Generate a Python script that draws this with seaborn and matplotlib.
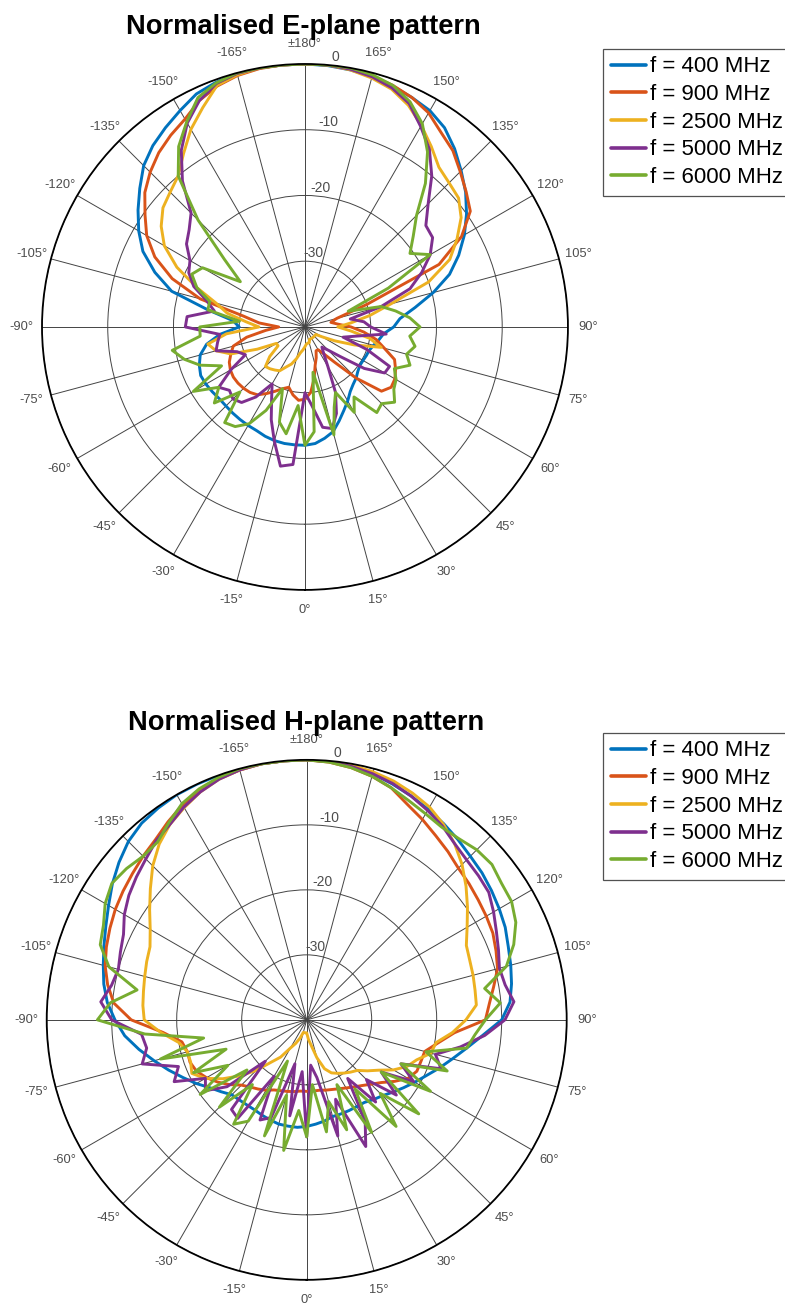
import numpy as np
import pandas as pd
import matplotlib
matplotlib.use("Agg")
import matplotlib.pyplot as plt
from matplotlib.lines import Line2D
import seaborn as sns

# ---------------- data (dB, angle grid 180 -> -175 deg, step 5) ----------------
angles_deg = list(range(180, -180, -5))
freq_labels = ["f = 400 MHz", "f = 900 MHz", "f = 2500 MHz", "f = 5000 MHz", "f = 6000 MHz"]
colors = ["#0072BD", "#D95319", "#EDB120", "#7E2F8E", "#77AC30"]
r_ticks = [-30, -20, -10, 0]

E_400 = [0, -0.1, -0.3, -0.6, -1.0, -1.5, -2.0, -3.0, -4.6, -6.4, -8.1, -10.0,
         -12.0, -14.2, -16.6, -19.8, -23.0, -25.5, -26.5, -28.0, -28.6, -29.2, -29.6, -29.7,
         -29.8, -29.8, -29.5, -29.0, -28.6, -28.0, -27.0, -26.0, -24.8, -23.5, -22.8, -22.2,
         -22.0, -22.0, -22.0, -22.1, -22.3, -22.6, -22.7, -22.8, -22.9, -23.0, -23.0, -22.8,
         -22.6, -22.5, -22.9, -23.5, -24.8, -27.0, -30.0, -29.0, -25.0, -19.0, -15.7, -12.8,
         -10.8, -9.0, -7.2, -5.3, -4.0, -3.0, -2.0, -0.9, -0.4, -0.1, 0.0, 0.0]
E_900 = [0, 0, -0.2, -0.5, -0.9, -1.5, -2.4, -3.9, -5.0, -6.6, -8.0, -9.3,
         -12.5, -17.5, -30.0, -35.0, -36.0, -35.0, -33.0, -31.0, -29.0, -27.5, -25.5, -24.8,
         -24.2, -24.0, -24.8, -29.0, -33.0, -35.0, -36.0, -36.0, -35.0, -34.0, -32.0, -30.0,
         -29.0, -28.8, -29.5, -30.5, -30.0, -29.2, -28.3, -27.4, -27.0, -26.8, -26.7, -26.7,
         -26.9, -27.3, -28.0, -28.7, -31.0, -34.0, -36.0, -33.0, -30.5, -23.5, -18.5, -14.8,
         -12.2, -10.3, -8.2, -6.7, -5.4, -4.4, -3.5, -2.0, -1.0, -0.4, -0.1, 0.0]
E_2500 = [0, 0, -0.3, -0.8, -1.5, -2.8, -4.6, -6.5, -8.3, -9.0, -9.5, -11.0,
          -13.3, -15.7, -20.0, -26.5, -30.0, -33.0, -35.0, -33.0, -30.0, -28.0, -32.0, -35.0,
          -37.0, -38.0, -38.0, -38.0, -38.0, -38.0, -38.0, -38.0, -38.0, -37.5, -37.5, -37.4,
          -37.0, -36.5, -36.0, -35.0, -34.0, -33.3, -32.3, -32.0, -31.7, -31.5, -33.0, -35.0,
          -35.0, -32.0, -28.0, -26.0, -25.0, -28.0, -33.0, -31.0, -28.0, -26.0, -22.5, -18.5,
          -15.3, -13.3, -11.8, -11.0, -10.0, -7.8, -5.3, -3.2, -0.9, -0.3, 0.0, 0.0]
E_5000 = [0, 0, -0.2, -0.6, -1.3, -2.5, -4.8, -7.0, -10.0, -13.5, -16.0, -16.3,
          -18.0, -20.4, -23.0, -28.0, -33.0, -31.0, -30.0, -27.6, -32.0, -34.0, -30.0, -25.8,
          -26.0, -29.0, -33.0, -35.0, -36.0, -35.0, -33.0, -29.0, -26.0, -24.0, -24.5, -28.0,
          -30.0, -19.0, -18.5, -22.0, -25.0, -28.0, -30.0, -27.0, -25.0, -24.5, -25.0, -24.0,
          -27.0, -30.0, -29.0, -26.0, -26.5, -27.0, -21.8, -22.0, -26.0, -24.5, -22.0, -20.5,
          -19.8, -18.0, -17.0, -15.5, -11.0, -7.2, -4.2, -2.0, -0.6, -0.1, 0.0, 0.0]
E_6000 = [0, 0, 0, -0.3, -0.9, -2.2, -4.3, -7.5, -11.5, -16.0, -18.5, -20.5,
          -18.0, -26.0, -33.0, -28.0, -26.0, -24.0, -22.5, -24.0, -23.0, -24.0, -23.0, -25.0,
          -24.0, -23.5, -22.2, -23.5, -23.0, -27.0, -25.0, -29.0, -27.0, -23.0, -33.0, -24.0,
          -22.0, -28.0, -23.5, -25.0, -30.0, -26.0, -23.0, -21.5, -21.0, -26.0, -22.0, -24.0,
          -20.4, -26.0, -23.0, -21.0, -19.5, -24.0, -24.0, -30.0, -25.0, -25.0, -22.5, -21.0,
          -22.0, -28.0, -24.0, -17.0, -10.0, -6.5, -4.0, -1.5, -0.5, 0.0, 0.0, 0.0]

H_400 = [0, -0.1, -0.4, -0.8, -1.4, -2.0, -2.6, -3.2, -3.8, -4.4, -4.8, -5.3,
         -5.8, -6.3, -7.0, -7.5, -8.0, -8.6, -10.0, -12.8, -15.0, -16.8, -18.3, -19.7,
         -20.8, -21.8, -22.7, -23.5, -24.0, -24.5, -24.6, -24.6, -24.6, -24.6, -24.2, -23.9,
         -23.6, -23.4, -23.4, -23.4, -23.6, -23.8, -24.0, -24.0, -23.9, -23.7, -22.8, -21.8,
         -20.4, -19.0, -17.4, -15.7, -13.8, -11.9, -10.5, -9.2, -8.3, -7.6, -6.8, -5.9,
         -4.8, -3.5, -2.3, -1.2, -0.5, -0.2, 0.0, 0.0, 0.0, 0.0, 0.0, 0.0]
H_900 = [0, -0.2, -0.6, -1.2, -2.0, -3.4, -4.4, -5.4, -6.2, -7.0, -7.4, -7.8,
         -8.1, -8.4, -9.0, -9.6, -10.8, -11.8, -12.5, -17.2, -19.5, -21.2, -21.3, -21.3,
         -22.0, -23.5, -25.0, -26.0, -26.8, -27.4, -27.9, -28.3, -28.6, -28.8, -29.0, -29.0,
         -29.0, -29.0, -28.8, -28.6, -28.4, -28.1, -27.5, -27.0, -26.5, -25.8, -24.5, -23.3,
         -22.2, -21.3, -20.9, -21.0, -20.5, -17.8, -13.0, -10.2, -8.9, -7.9, -7.2, -6.6,
         -6.0, -5.5, -5.0, -4.4, -3.8, -2.8, -1.8, -1.0, -0.5, -0.2, 0.0, 0.0]
H_2500 = [0, 0, -0.2, -0.5, -0.9, -1.5, -2.2, -3.3, -4.6, -6.2, -8.0, -9.8,
          -11.5, -12.9, -13.3, -13.5, -13.7, -13.8, -15.5, -17.5, -19.8, -20.2, -22.0, -23.0,
          -24.6, -26.5, -27.8, -29.0, -29.5, -30.0, -30.5, -31.0, -32.0, -34.0, -36.0, -37.0,
          -38.0, -38.0, -38.0, -38.0, -37.0, -36.0, -35.0, -33.0, -31.5, -29.0, -26.6, -24.2,
          -22.0, -20.5, -21.0, -21.0, -20.0, -17.5, -15.0, -14.7, -14.5, -14.2, -13.8, -13.4,
          -12.2, -10.5, -8.6, -6.5, -4.7, -3.3, -2.3, -1.3, -0.6, -0.2, 0.0, 0.0]
H_5000 = [0, -0.1, -0.4, -0.8, -1.3, -2.0, -2.8, -3.6, -4.6, -5.2, -5.5, -5.8,
          -6.8, -7.8, -8.6, -9.3, -9.0, -8.0, -9.5, -12.5, -16.0, -19.5, -18.0, -24.0,
          -21.0, -26.0, -22.0, -27.0, -23.5, -29.0, -22.0, -18.5, -27.0, -21.5, -31.0, -33.0,
          -22.0, -32.0, -25.0, -33.0, -24.0, -23.0, -30.0, -21.5, -22.0, -31.0, -24.0, -21.0,
          -22.0, -17.5, -19.0, -13.8, -15.0, -14.5, -10.0, -8.2, -9.5, -10.0, -9.5, -8.9,
          -7.6, -6.6, -5.8, -5.0, -4.0, -3.3, -2.2, -1.3, -0.6, -0.2, 0.0, 0.0]
H_6000 = [0, -0.2, -0.6, -1.2, -2.0, -2.8, -3.4, -3.8, -3.6, -3.0, -2.8, -3.4,
          -3.6, -4.5, -6.1, -8.2, -12.2, -10.1, -12.5, -14.0, -15.0, -21.0, -17.0, -24.0,
          -18.0, -26.0, -17.5, -24.0, -18.6, -27.0, -20.0, -29.0, -22.0, -27.0, -22.5, -30.0,
          -22.0, -26.0, -19.6, -28.0, -21.0, -33.0, -22.0, -20.4, -27.0, -21.0, -28.0, -20.0,
          -26.0, -20.8, -26.8, -16.7, -23.9, -15.0, -7.8, -9.7, -13.5, -8.5, -6.2, -5.5,
          -4.2, -3.4, -3.8, -4.4, -4.3, -3.0, -1.6, -0.8, -0.3, 0.0, 0.0, 0.0]

E_plane = [E_400, E_900, E_2500, E_5000, E_6000]
H_plane = [H_400, H_900, H_2500, H_5000, H_6000]

# ---------------- style ----------------
sns.set_theme(style="white")
plt.rcParams["font.family"] = ["Liberation Sans", "DejaVu Sans"]
plt.rcParams["text.color"] = "black"
TICK_COLOR = "#4d4d4d"
GRID_COLOR = "#444444"


def make_frame(series_list):
    rows = []
    for lab, vals in zip(freq_labels, series_list):
        angs = angles_deg + [-180]
        vv = list(vals) + [vals[0]]
        for a, v in zip(angs, vv):
            rows.append({"theta": np.deg2rad(a), "r": v, "freq": lab})
    return pd.DataFrame(rows)


def theta_label(a):
    if a == 180:
        return "\u00b1180\u00b0"
    if a > 180:
        return f"{a - 360}\u00b0"
    return f"{a}\u00b0"


def draw(ax, series_list):
    df = make_frame(series_list)
    sns.lineplot(data=df, x="theta", y="r", hue="freq", palette=colors,
                 hue_order=freq_labels, sort=False, estimator=None,
                 linewidth=2.1, ax=ax, legend=False)
    ax.set_theta_zero_location("S")
    ax.set_theta_direction(1)
    ax.set_ylim(-40, 0)
    ax.set_yticks([-40, -30, -20, -10, 0])
    ax.set_yticklabels([])
    tick_angles = list(range(0, 360, 15))
    ax.set_xticks(np.deg2rad(tick_angles))
    ax.set_xticklabels([theta_label(a) for a in tick_angles],
                       fontsize=9.3, color=TICK_COLOR)
    ax.tick_params(axis="x", pad=1.5)
    ax.grid(True, color=GRID_COLOR, linewidth=0.7)
    ax.spines["polar"].set_color("black")
    ax.spines["polar"].set_linewidth(1.3)
    ax.set_xlabel("")
    ax.set_ylabel("")
    for v in r_ticks:
        ax.text(np.deg2rad(173.5), v + 1.3, f"{v}", fontsize=10, color=TICK_COLOR,
                ha="center", va="center", clip_on=False)


fig = plt.figure(figsize=(7.85, 13.07), dpi=100)
fig.patch.set_facecolor("white")

ax1 = fig.add_axes([0.0535, 0.5486, 0.670, 0.4025], projection="polar")
ax2 = fig.add_axes([0.0595, 0.0207, 0.6624, 0.398], projection="polar")

draw(ax1, E_plane)
draw(ax2, H_plane)

fig.text(0.386, 0.9793, "Normalised E-plane pattern", fontsize=19.6, fontweight="bold",
         ha="center", va="center", color="black")
fig.text(0.3906, 0.4472, "Normalised H-plane pattern", fontsize=19.6, fontweight="bold",
         ha="center", va="center", color="black")

handles = [Line2D([0], [0], color=c, lw=2.6) for c in colors]
for anchor in [(0.768, 0.9628), (0.768, 0.4395)]:
    leg = fig.legend(handles, freq_labels, loc="upper left", bbox_to_anchor=anchor,
                     fontsize=16, frameon=True, fancybox=False, borderaxespad=0,
                     borderpad=0.35, labelspacing=0.3, handlelength=1.6,
                     handletextpad=0.15)
    leg.get_frame().set_edgecolor("#262626")
    leg.get_frame().set_linewidth(0.9)
    for t in leg.get_texts():
        t.set_color("black")

fig.savefig("out.png", dpi=100, facecolor="white")
